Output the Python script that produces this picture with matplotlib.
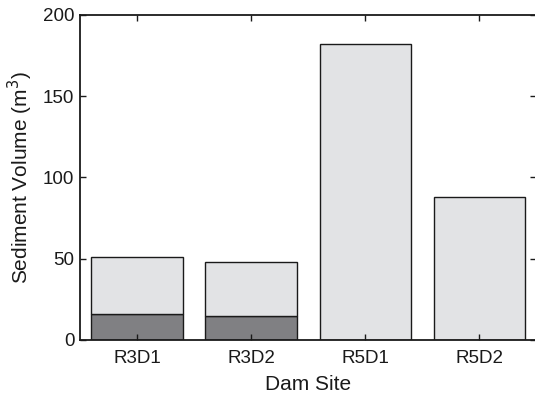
import numpy as np
import matplotlib
matplotlib.use("Agg")
import matplotlib.pyplot as plt

plt.rcParams['font.family'] = ['Liberation Sans', 'DejaVu Sans']

# dam sites and sediment volumes (m^3)
sites = ["R3D1", "R3D2", "R5D1", "R5D2"]
total_volume = [51, 48, 182, 88]
dark_volume = [16, 15, 0, 0]

upper_volume = [t - d for t, d in zip(total_volume, dark_volume)]
x = np.arange(1, len(sites) + 1)

fig = plt.figure(figsize=(5.35, 3.99), dpi=100)
ax = fig.add_axes([0.1495, 0.148, 0.853, 0.815])

ax.bar(x, dark_volume, width=0.8, color="#808083", edgecolor="#1a1a1a", linewidth=1.0)
ax.bar(x, upper_volume, width=0.8, bottom=dark_volume, color="#e2e3e5",
       edgecolor="#1a1a1a", linewidth=1.0)

ax.set_xlim(0.5, 4.5)
ax.set_ylim(0, 200)
ax.set_xticks(x)
ax.set_xticklabels(sites)
ax.set_yticks([0, 50, 100, 150, 200])
ax.tick_params(direction="in", top=True, right=True, length=4, width=1.0,
               labelsize=13.5, colors="#1a1a1a", pad=4)
ax.tick_params(axis="x", pad=7)
for s in ax.spines.values():
    s.set_linewidth(1.3)
    s.set_color("#1a1a1a")

ax.set_xlabel("Dam Site", fontsize=15, color="#1a1a1a", labelpad=6)
ax.set_ylabel("Sediment Volume (m$^3$)", fontsize=15, color="#1a1a1a", labelpad=6)

fig.savefig("out.png", dpi=100)
